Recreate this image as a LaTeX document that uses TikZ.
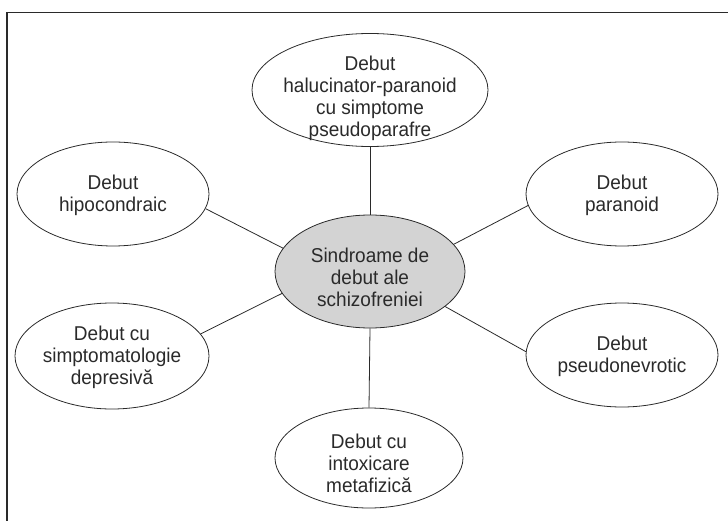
\documentclass[tikz,border=0pt]{standalone}
\usepackage{fontspec}
\setmainfont[FakeStretch=0.95]{Liberation Sans}
\usetikzlibrary{shapes.geometric}
\definecolor{ink}{HTML}{2A2A2A}
\definecolor{hubfill}{HTML}{D3D3D3}
\tikzset{
  ell/.style={ellipse, draw=ink, line width=0.8bp, inner sep=0pt},
  txt/.style={align=center, text=ink, font=\fontsize{20bp}{22bp}\selectfont, inner sep=0pt},
  conn/.style={draw=ink, line width=0.8bp},
  frame/.style={draw=ink, line width=1.5bp}
}
\begin{document}
\begin{tikzpicture}[x=1bp, y=-1bp]
\useasboundingbox (0,0) rectangle (728,521);
\draw[frame] (7,521) -- (7,12.5) -- (728,12.5);

\node[ell, fill=hubfill, minimum width=190bp, minimum height=113bp,
  label={[txt, yshift=-6bp]center:Sindroame de\\debut ale\\schizofreniei}] (c) at (370,271.5) {};
\node[ell, minimum width=236bp, minimum height=113bp,
  label={[txt, yshift=-8bp]center:Debut\\halucinator-paranoid\\cu simptome\\pseudoparafre}] (t) at (370,90) {};
\node[ell, minimum width=192bp, minimum height=104bp,
  label={[txt, yshift=-1bp]center:Debut\\hipocondraic}] (h) at (113,194) {};
\node[ell, minimum width=194bp, minimum height=106bp,
  label={[txt, yshift=-1bp]center:Debut cu\\simptomatologie\\depresivă}] (d) at (112,356) {};
\node[ell, minimum width=192bp, minimum height=104bp,
  label={[txt, yshift=-1bp]center:Debut\\paranoid}] (p) at (622,194) {};
\node[ell, minimum width=192bp, minimum height=104bp,
  label={[txt, yshift=-1bp]center:Debut\\pseudonevrotic}] (s) at (622,355) {};
\node[ell, minimum width=188bp, minimum height=100bp,
  label={[txt, yshift=-5bp]center:Debut cu\\intoxicare\\metafizică}] (b) at (369,458) {};

\draw[conn] (t.south) -- (c.north);
\draw[conn] (c.south) -- (b.north);
\draw[conn] (h.-9) -- (c.165);
\draw[conn] (d.14) -- (c.194);
\draw[conn] (p.187) -- (c.18);
\draw[conn] (s.178) -- (c.-25);
\end{tikzpicture}
\end{document}
